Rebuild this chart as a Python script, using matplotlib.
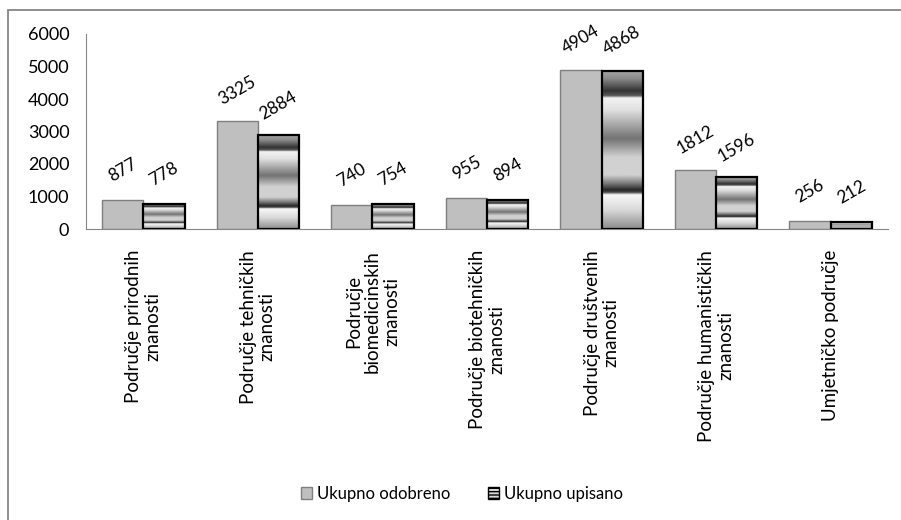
import matplotlib
matplotlib.use("Agg")
import matplotlib.pyplot as plt
import numpy as np
from matplotlib.patches import Patch, Rectangle

categories = [
    "Područje prirodnih\nznanosti",
    "Područje tehničkih\nznanosti",
    "Područje\nbiomedicinskih\nznanosti",
    "Područje biotehničkih\nznanosti",
    "Područje društvenih\nznanosti",
    "Područje humanističkih\nznanosti",
    "Umjetničko područje",
]
odobreno = [877, 3325, 740, 955, 4904, 1812, 256]
upisano = [778, 2884, 754, 894, 4868, 1596, 212]
series_names = ["Ukupno odobreno", "Ukupno upisano"]
yticks = [0, 1000, 2000, 3000, 4000, 5000, 6000]

plt.rcParams['font.family'] = ['Lato', 'DejaVu Sans']

W, H = 901, 520
fig = plt.figure(figsize=(W / 100, H / 100), dpi=100)
ax = fig.add_axes([86 / W, 1 - 229 / H, (888 - 86) / W, (229 - 34) / H])

# outer chart frame (only left and top edges are visible in the reference)
fig.patches.append(Rectangle((8 / W, -0.1), 1.2, (1 - 10 / H) + 0.1, transform=fig.transFigure,
                             fill=False, edgecolor='#868686', linewidth=1.3))

x = np.arange(len(categories))
w = 0.36
b1 = ax.bar(x - w / 2, odobreno, w, color='#BFBFBF', edgecolor='#7f7f7f', linewidth=1.0, zorder=2)
b2 = ax.bar(x + w / 2, upisano, w, facecolor='none', edgecolor='black', linewidth=1.6, zorder=4)

# stripe texture profile (style only), top -> bottom
tp = [0.0, 0.05, 0.13, 0.16, 0.175, 0.25, 0.43, 0.55, 0.66, 0.71, 0.755, 0.77, 0.785, 0.88, 1.0]
vp = [0.65, 0.55, 0.2, 0.35, 0.95, 0.88, 0.45, 0.82, 0.82, 0.5, 0.15, 0.3, 0.97, 0.85, 0.55]
tt = np.linspace(0, 1, 400)
prof = np.interp(tt, tp, vp)[:, None]
for bar in b2:
    x0, y0 = bar.get_x(), bar.get_y()
    bw, bh = bar.get_width(), bar.get_height()
    im = ax.imshow(prof, extent=(x0, x0 + bw, y0, y0 + bh), origin='upper', cmap='gray',
                   vmin=0, vmax=1, aspect='auto', zorder=3, interpolation='bilinear')
    im.set_clip_path(bar)

ax.set_xlim(-0.5, len(categories) - 0.5)
ax.set_ylim(0, 6000)
ax.set_yticks(yticks)
ax.set_yticklabels([str(v) for v in yticks], fontsize=13)
ax.set_xticks(x)
ax.set_xticklabels(categories, rotation=90, fontsize=13.5, va='top', ha='center',
                   multialignment='center', linespacing=1.15)
ax.tick_params(axis='both', length=0)
ax.tick_params(axis='y', pad=12)
ax.tick_params(axis='x', pad=15)
for s in ['top', 'right']:
    ax.spines[s].set_visible(False)
ax.spines['left'].set_color('#868686')
ax.spines['bottom'].set_color('#868686')

for bars, vals in ((b1, odobreno), (b2, upisano)):
    for bar, v in zip(bars, vals):
        ax.annotate(str(v), (bar.get_x() + bar.get_width() / 2, v), xytext=(0, 30),
                    textcoords='offset pixels', ha='center', va='center', rotation=30,
                    rotation_mode='anchor', fontsize=12.5)

handles = [Patch(facecolor='#BFBFBF', edgecolor='#7f7f7f', label=series_names[0]),
           Patch(facecolor='#d9d9d9', edgecolor='black', hatch='-----', label=series_names[1])]
fig.legend(handles=handles, loc='center', bbox_to_anchor=(462 / W, 1 - 494 / H), ncol=2,
           frameon=False, fontsize=12, handlelength=0.7, handleheight=0.7,
           handletextpad=0.3, columnspacing=2.2)

fig.savefig("out.png", dpi=100)
